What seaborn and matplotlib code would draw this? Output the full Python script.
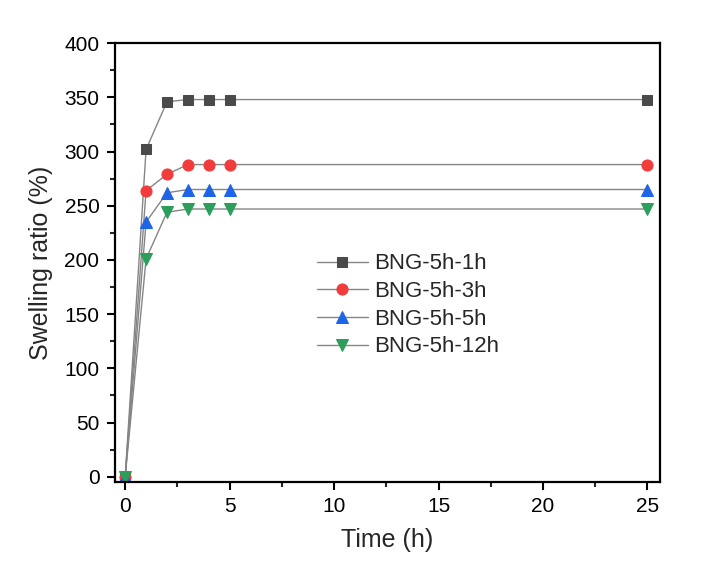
import numpy as np
import pandas as pd
import matplotlib
matplotlib.use("Agg")
import matplotlib.pyplot as plt
import seaborn as sns
from matplotlib.ticker import MultipleLocator

# Swelling ratio data
time_h = [0, 1, 2, 3, 4, 5, 25]
bng_1h = [0, 302, 346, 348, 348, 348, 348]
bng_3h = [0, 264, 279, 288, 288, 288, 288]
bng_5h = [0, 235, 262, 265, 265, 265, 265]
bng_12h = [0, 201, 244, 247, 247, 247, 247]

labels = ["BNG-5h-1h", "BNG-5h-3h", "BNG-5h-5h", "BNG-5h-12h"]
series = [bng_1h, bng_3h, bng_5h, bng_12h]
colors = ["#4a4a4a", "#f23c3c", "#1e64e6", "#2a9e5a"]
markers = ["s", "o", "^", "v"]
msizes = [7, 8, 8, 8]

sns.set_theme(style="ticks")
plt.rcParams["font.family"] = ["Liberation Sans", "DejaVu Sans"]

fig = plt.figure(figsize=(7.04, 5.76), dpi=100)
ax = fig.add_axes([0.163, 0.163, 0.7745, 0.762])

for lab, vals, col, mk, ms in zip(labels, series, colors, markers, msizes):
    df = pd.DataFrame({"Time": time_h, "Swelling": vals})
    sns.lineplot(data=df, x="Time", y="Swelling", ax=ax, color="#858585",
                 linewidth=1.0, marker=mk, markersize=ms,
                 markerfacecolor=col, markeredgecolor=col, label=lab)

ax.set_xlim(-0.5, 25.6)
ax.set_ylim(-5, 400)
ax.xaxis.set_major_locator(MultipleLocator(5))
ax.xaxis.set_minor_locator(MultipleLocator(2.5))
ax.yaxis.set_major_locator(MultipleLocator(50))
ax.yaxis.set_minor_locator(MultipleLocator(25))
ax.tick_params(which="major", direction="out", length=6, width=1.5,
               labelsize=15, colors="black", pad=5)
ax.tick_params(which="minor", direction="out", length=3.5, width=1.5)
for sp in ax.spines.values():
    sp.set_linewidth(1.6)
    sp.set_color("black")
    sp.set_visible(True)

ax.set_xlabel("Time (h)", fontsize=18, labelpad=8)
ax.set_ylabel("Swelling ratio (%)", fontsize=18, labelpad=8)

ax.legend(loc="upper left", bbox_to_anchor=(0.450, 0.560),
          bbox_transform=fig.transFigure, frameon=False, fontsize=16,
          handlelength=2.3, handletextpad=0.3, labelspacing=0.3,
          borderpad=0, borderaxespad=0)

fig.savefig("out.png", dpi=100)
